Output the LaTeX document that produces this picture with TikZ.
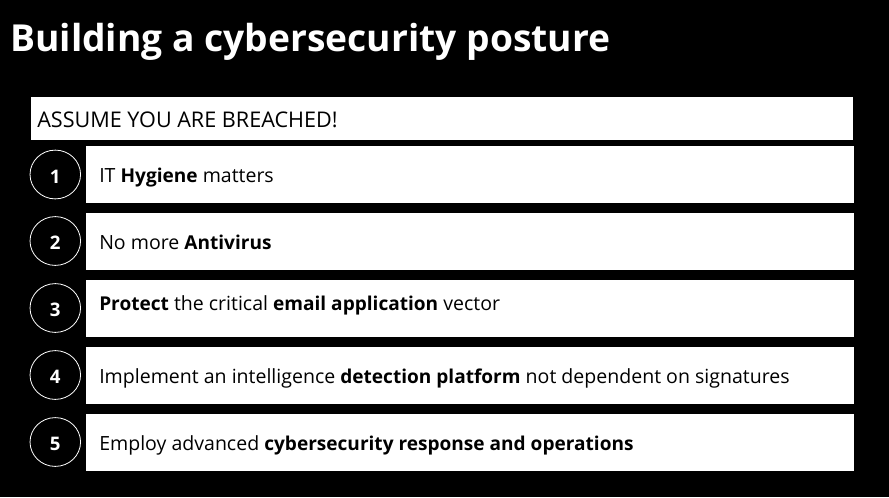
\documentclass[tikz,border=0pt]{standalone}
\usetikzlibrary{shapes.geometric}
\usepackage{fontspec}
\setmainfont{Open Sans}
\tikzset{
 px/.style={x=0.75pt,y=-0.75pt},
 bar/.style={fill=white,draw=none,minimum height=42.75pt,inner sep=0pt,anchor=north west,minimum width=576pt},
 num/.style={ellipse,draw=white,line width=0.6pt,minimum width=37.9pt,minimum height=36.6pt,inner sep=0pt,text=white,font=\fontsize{14}{16}\selectfont\bfseries},
 lab/.style={anchor=base west,inner sep=0pt,text=black,font=\fontsize{14.65}{17}\selectfont},
}
\newcommand{\numtxt}[1]{\raisebox{-6.6pt}[0pt][0pt]{#1}}
\newcommand{\bb}[1]{{\fontsize{14.3}{17}\selectfont\bfseries #1}}
\begin{document}
\begin{tikzpicture}[px]
\useasboundingbox (0,0) rectangle (889,497);
\fill[black] (0,0) rectangle (889,497);
\node[anchor=base west,inner sep=0pt,text=white,font=\fontsize{27.9}{34}\selectfont\bfseries] (title) at (10,51) {Building a cybersecurity posture};
\node[fill=white,anchor=north west,minimum width=616.5pt,minimum height=32.25pt,inner sep=0pt] (head) at (31,97) {};
\node[anchor=base west,inner sep=0pt,font=\fontsize{16.2}{20}\selectfont] (headt) at (37,127) {ASSUME YOU ARE BREACHED!};
\node[bar] (b1) at (86,146) {};
\node[bar] (b2) at (86,213) {};
\node[bar] (b3) at (86,280) {};
\node[bar] (b4) at (86,347) {};
\node[bar] (b5) at (86,414) {};
\node[num] (n1) at (55.3,174.5) {\numtxt{1}};
\node[num] (n2) at (55.3,241) {\numtxt{2}};
\node[num] (n3) at (55.3,308) {\numtxt{3}};
\node[num] (n4) at (55.3,375) {\numtxt{4}};
\node[num] (n5) at (55.3,442) {\numtxt{5}};
\node[lab] (t1) at (99,182) {IT \bb{Hygiene} matters};
\node[lab] (t2) at (99,249) {No more \bb{Antivirus}};
\node[lab] (t3) at (99,310) {\bb{Protect} the critical \bb{email application} vector};
\node[lab] (t4) at (99,383) {Implement an intelligence \bb{detection platform} not dependent on signatures};
\node[lab] (t5) at (99,450) {Employ advanced \bb{cybersecurity response and operations}};
\end{tikzpicture}
\end{document}
